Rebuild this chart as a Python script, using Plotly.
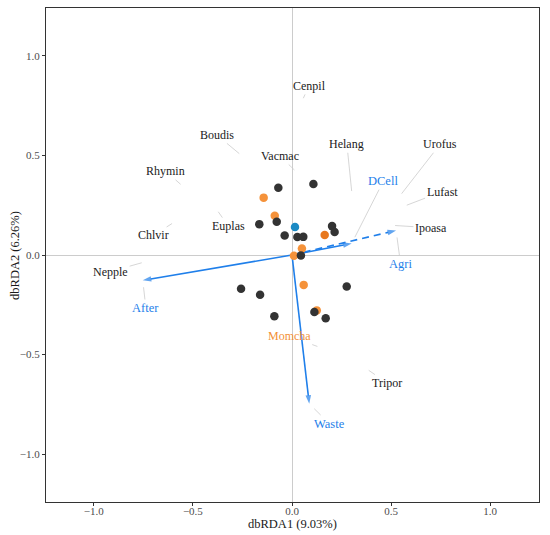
import plotly.graph_objects as go

# sample scores (dbRDA1, dbRDA2) by group
black_x = [-0.069, 0.108, -0.165, -0.077, -0.037, 0.027, 0.057, 0.202, 0.215, 0.045,
           0.276, -0.257, -0.161, -0.089, 0.113, 0.170]
black_y = [0.338, 0.356, 0.155, 0.167, 0.098, 0.090, 0.091, 0.145, 0.115, -0.003,
           -0.158, -0.170, -0.200, -0.308, -0.286, -0.318]
orange_x = [-0.143, -0.087, 0.050, 0.010, 0.059, 0.125]
orange_y = [0.288, 0.197, 0.033, -0.004, -0.150, -0.278]
darkorange_x = [0.165]
darkorange_y = [0.100]
teal_x = [0.015]
teal_y = [0.140]

# species scores and where their labels sit
species = ["Cenpil", "Boudis", "Helang", "Urofus", "Vacmac", "Rhymin", "Lufast",
           "Euplas", "Ipoasa", "Chlvir", "Nepple", "Momcha", "Tripor"]
species_x = [0.057, -0.266, 0.301, 0.553, 0.012, -0.562, 0.579,
             -0.372, 0.520, -0.605, -0.758, 0.128, 0.387]
species_y = [0.787, 0.509, 0.321, 0.308, 0.427, 0.355, 0.250,
             0.217, 0.148, 0.158, -0.039, -0.459, -0.579]
species_label_x = [0.086, -0.380, 0.277, 0.747, -0.061, -0.636, 0.757,
                   -0.321, 0.701, -0.700, -0.915, -0.014, 0.481]
species_label_y = [0.849, 0.603, 0.556, 0.556, 0.497, 0.420, 0.318,
                   0.145, 0.137, 0.098, -0.083, -0.408, -0.643]
highlighted = ["Momcha"]

# environmental vectors
env = ["After", "Waste", "DCell", "Agri"]
env_x = [-0.753, 0.087, 0.301, 0.525]
env_y = [-0.127, -0.747, 0.058, 0.123]
env_label_x = [-0.737, 0.188, 0.461, 0.548]
env_label_y = [-0.266, -0.846, 0.371, -0.046]
env_dashed = [False, False, False, True]

blue = "#1f7fea"
serif = "'Liberation Serif', 'Times New Roman', 'DejaVu Serif', serif"

fig = go.Figure()

# arrows from the origin
for name, ex, ey, dashed in zip(env, env_x, env_y, env_dashed):
    fig.add_trace(go.Scatter(
        x=[0, ex],
        y=[0, ey],
        mode="lines+markers",
        line=dict(color=blue, width=1.6, dash="7px,5px" if dashed else "solid"),
        marker=dict(symbol="arrow", size=[0, 9], angleref="previous",
                    color=blue, line=dict(width=0)),
        hoverinfo="skip",
        showlegend=False))

# sample points
for xs, ys, colour in [(orange_x, orange_y, "#f5923a"),
                       (darkorange_x, darkorange_y, "#e8781e"),
                       (black_x, black_y, "#333333"),
                       (teal_x, teal_y, "#1b8ac4")]:
    fig.add_trace(go.Scatter(
        x=xs,
        y=ys,
        mode="markers",
        marker=dict(size=8.5, color=colour, line=dict(width=0)),
        showlegend=False))

# repelled labels with leader lines
for name, sx, sy, lx, ly in zip(species, species_x, species_y, species_label_x, species_label_y):
    fig.add_annotation(
        x=sx, y=sy, ax=lx, ay=ly, xref="x", yref="y", axref="x", ayref="y",
        text=name,
        showarrow=True, arrowhead=0, arrowwidth=0.8, arrowcolor="#cccccc", standoff=0,
        font=dict(family=serif, size=12, color="#f39035" if name in highlighted else "#1a1a1a"))

for name, ex, ey, lx, ly in zip(env, env_x, env_y, env_label_x, env_label_y):
    fig.add_annotation(
        x=ex, y=ey, ax=lx, ay=ly, xref="x", yref="y", axref="x", ayref="y",
        text=name,
        showarrow=True, arrowhead=0, arrowwidth=0.8, arrowcolor="#cccccc", standoff=7,
        font=dict(family=serif, size=12.5, color=blue))

# axis titles
title_font = dict(family=serif, size=12.5, color="#1a1a1a")
fig.add_annotation(text="dbRDA1 (9.03%)", xref="paper", yref="paper", x=0.5, y=-0.0445,
                   xanchor="center", yanchor="middle", showarrow=False, font=title_font)
fig.add_annotation(text="dbRDA2 (6.26%)", xref="paper", yref="paper", x=-0.063, y=0.5,
                   xanchor="center", yanchor="middle", textangle=-90,
                   showarrow=False, font=title_font)

axis_style = dict(
    tickvals=[-1.0, -0.5, 0.0, 0.5, 1.0],
    tickformat=".1f",
    ticks="outside",
    ticklen=3,
    tickcolor="#333333",
    tickfont=dict(family=serif, size=11, color="#4d4d4d"),
    showgrid=False,
    zeroline=True,
    zerolinecolor="#cccccc",
    zerolinewidth=1.2,
    showline=True,
    mirror=True,
    linecolor="#333333",
    linewidth=1.2,
    automargin=False)

fig.update_layout(
    width=550,
    height=535,
    margin=dict(l=46, r=11, t=8, b=33),
    paper_bgcolor="white",
    plot_bgcolor="white",
    showlegend=False,
    xaxis=dict(range=[-1.241, 1.246], ticklabelstandoff=-4, **axis_style),
    yaxis=dict(range=[-1.240, 1.240], **axis_style))

# the page's default body margin would push the figure off the window
fig.write_html("out.html", config={"displayModeBar": False},
               post_script="document.body.style.margin = '0';")
